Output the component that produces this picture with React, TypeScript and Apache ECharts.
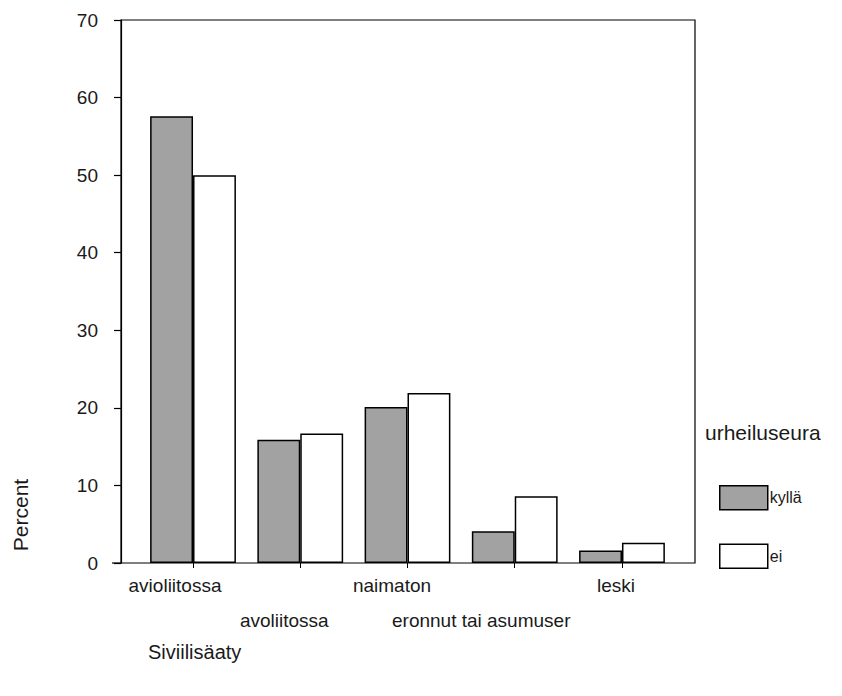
import React, { useEffect, useRef } from "react";
import * as echarts from "echarts";

const categories = ["avioliitossa", "avoliitossa", "naimaton", "eronnut tai asumuser", "leski"];
const kyllaValues = [57.6, 15.9, 20.1, 4.1, 1.6];
const eiValues = [50.0, 16.7, 21.9, 8.6, 2.6];
const seriesNames = ["kyllä", "ei"];
const yMin = 0;
const yMax = 70;
const yInterval = 10;

// label horizontal shifts (styling only)
const LABEL_SHIFT = [-18, -16, -15.5, -33.5, -6];

export default function App() {
  const ref = useRef<HTMLDivElement>(null);
  useEffect(() => {
    if (!ref.current) return;
    const chart = echarts.init(ref.current, undefined, { renderer: "svg" });
    const font = "'Liberation Sans', Arial, Helvetica, sans-serif";
    const rich: any = {};
    LABEL_SHIFT.forEach((s, i) => {
      rich["s" + i] = {
        fontSize: 19,
        fontFamily: font,
        color: "#1a1a1a",
        lineHeight: 35,
        padding: s < 0 ? [0, -2 * s, 0, 0] : [0, 0, 0, 2 * s],
      };
    });
    const option: any = {
      animation: false,
      backgroundColor: "#fff",
      textStyle: { fontFamily: font },
      grid: [
        { left: 139.4, right: 166.4, top: 20, bottom: 133, show: false },
        { left: 121, right: 147, top: 20, bottom: 133, show: true, borderColor: "#000", borderWidth: 1.2, backgroundColor: "transparent" },
      ],
      xAxis: [
        {
          type: "category",
          gridIndex: 0,
          data: categories,
          axisLine: { show: false },
          axisTick: { show: true, alignWithLabel: true, length: 5, lineStyle: { color: "#000" } },
          axisLabel: {
            interval: 0,
            margin: 5,
            lineHeight: 35,
            fontSize: 19,
            rich,
            formatter: (v: string, i: number) => (i % 2 === 1 ? "\n" : "") + "{s" + i + "|" + v + "}",
          },
        },
        { type: "value", gridIndex: 1, show: false, min: 0, max: 1 },
      ],
      yAxis: [
        { type: "value", gridIndex: 0, min: yMin, max: yMax, interval: yInterval, show: false },
        {
          type: "value",
          gridIndex: 1,
          min: yMin,
          max: yMax,
          interval: yInterval,
          axisLine: { show: true, lineStyle: { color: "#000", width: 1.2 } },
          axisTick: { show: true, inside: false, length: 7, lineStyle: { color: "#000", width: 1.2 } },
          axisLabel: { fontSize: 19, color: "#1a1a1a", margin: 23, fontFamily: font },
          splitLine: { show: false },
        },
      ],
      legend: {
        orient: "vertical",
        left: 714,
        top: 480,
        itemWidth: 48,
        itemHeight: 24,
        itemGap: 33,
        icon: "rect",
        data: seriesNames,
        textStyle: { fontSize: 16, color: "#1a1a1a", fontFamily: font, padding: [0, 0, 0, -3] },
        itemStyle: { borderColor: "#000", borderWidth: 1.5 },
        selectedMode: false,
      },
      series: [
        {
          name: seriesNames[0],
          type: "bar",
          xAxisIndex: 0,
          yAxisIndex: 0,
          data: kyllaValues,
          barGap: "0%",
          barCategoryGap: "20%",
          itemStyle: { color: "#a2a2a2", borderColor: "#000", borderWidth: 1.5 },
        },
        {
          name: seriesNames[1],
          type: "bar",
          xAxisIndex: 0,
          yAxisIndex: 0,
          data: eiValues,
          barGap: "0%",
          barCategoryGap: "20%",
          itemStyle: { color: "#ffffff", borderColor: "#000", borderWidth: 1.5 },
        },
      ],
      graphic: [
        {
          type: "line",
          shape: { x1: 112, y1: 563, x2: 121, y2: 563 },
          style: { stroke: "#000", lineWidth: 1.2 },
        },
        {
          type: "text",
          x: 20,
          y: 515,
          rotation: Math.PI / 2,
          style: { text: "Percent", font: "21px " + font, fill: "#1a1a1a", align: "center", verticalAlign: "middle" },
        },
        {
          type: "text",
          x: 148,
          y: 652,
          style: { text: "Siviilisäaty", font: "20px " + font, fill: "#1a1a1a", align: "left", verticalAlign: "middle" },
        },
        {
          type: "text",
          x: 705,
          y: 432,
          style: { text: "urheiluseura", font: "21px " + font, fill: "#1a1a1a", align: "left", verticalAlign: "middle" },
        },
      ],
    };
    chart.setOption(option);
    return () => chart.dispose();
  }, []);
  return <div ref={ref} style={{ position: "fixed", left: 0, top: 0, width: 842, height: 696 }} />;
}
